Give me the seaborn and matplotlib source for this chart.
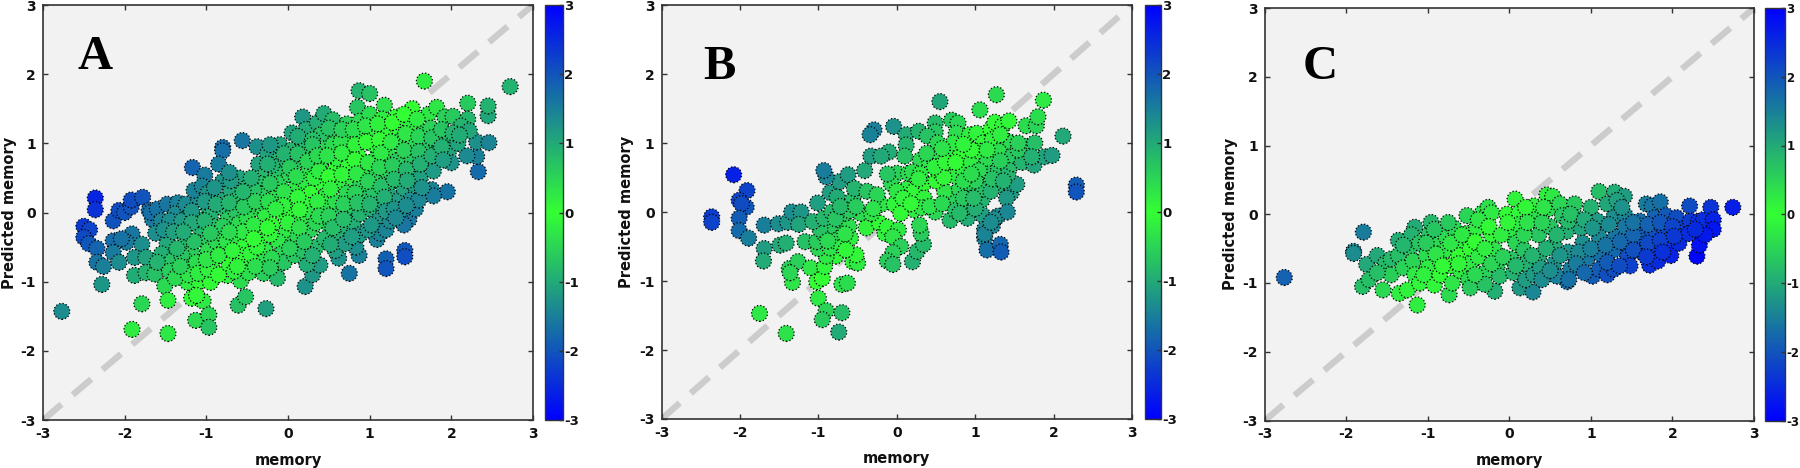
import matplotlib
matplotlib.use("Agg")
import matplotlib.pyplot as plt
from matplotlib.colors import LinearSegmentedColormap, Normalize
from matplotlib.cm import ScalarMappable
import seaborn as sns
import pandas as pd

plt.rcParams["axes.unicode_minus"] = False

axis_limits = [-3, 3]
tick_values = [-3, -2, -1, 0, 1, 2, 3]
panel_letters = ["A", "B", "C"]
x_title = "memory"
y_title = "Predicted memory"

a_points = [
(-2.77,-1.43),(-2.36,0.21),(-2.36,0.04),(-2.5,-0.2),(-2.43,-0.25),(-2.5,-0.36),(-2.44,-0.45),(-2.34,-0.52),(-2.34,-0.72),(-2.26,-0.78),(-2.28,-1.04),
(-2.14,-0.12),(-2.07,0.03),(-2.0,0.0),(-1.92,0.08),(-1.92,0.18),(-1.78,0.22),(-1.7,0.03),(-1.66,-0.1),(-1.68,0.0),
(-2.14,-0.41),(-2.14,-0.58),(-2.07,-0.72),(-1.91,-0.31),(-1.98,-0.43),(-2.04,-0.38),(-1.79,-0.46),(-1.88,-0.65),(-1.74,-0.65),(-1.88,-0.91),(-1.74,-0.87),(-1.63,-0.89),(-1.51,-1.06),(-1.23,-1.01),(-1.09,-1.0),(-0.95,-1.01),(-0.74,-0.91),(-0.58,-0.99),
(-1.91,-1.69),(-1.79,-1.32),(-1.47,-1.75),(-1.47,-1.27),(-1.18,-1.24),(-1.04,-1.28),(-1.13,-1.56),(-0.97,-1.48),(-0.97,-1.66),(-0.61,-1.34),(-0.52,-1.22),(-0.27,-1.39),(-1.12,-1.2),
(0.21,-1.07),(0.3,-0.9),(0.39,-0.76),(0.23,-0.75),(0.62,-0.66),(0.75,-0.88),(0.87,-0.62),(0.83,-0.5),(1.2,-0.67),(1.2,-0.81),(1.43,-0.55),(1.43,-0.64),(1.09,-0.39),(1.13,-0.3),
(1.95,0.3),(1.76,0.33),(1.78,0.24),(1.48,-0.1),(2.33,0.59),(2.31,0.81),(2.19,0.82),(2.31,1.02),(2.46,1.01),(2.45,1.4),(2.45,1.54),(2.2,1.58),(2.72,1.82),(1.67,1.9),(0.87,1.76),(1.0,1.72),
(-0.56,1.04),(-0.8,0.94),(-0.8,0.89),(-0.38,0.95),(-0.85,0.7),(-1.17,0.65),(-1.02,0.54),
(-1.6,0.05),(-1.55,-0.12),(-1.62,-0.3),(-1.48,-0.45),(-1.55,-0.6),(-1.42,-0.7),(-1.6,-0.72),(-1.45,-0.85),(-1.38,-0.95),
(-1.48,0.12),(-1.35,0.14),(-1.38,-0.02),(-1.45,-0.12),(-1.22,-0.05),(-1.25,0.12),(-1.1,0.22),(-1.15,0.32),(-1.05,0.38),(-0.98,0.28),
(-1.25,-0.42),(-1.18,-0.58),(-1.3,-0.62),(-1.25,-0.8),(-1.12,-0.72),(-1.22,-0.9),(-1.1,-0.88),(-1.02,-0.4),(-1.08,-0.22),(-1.1,-0.1),
(-0.98,0.08),(-0.95,-0.05),(-0.92,-0.2),(-0.98,-0.55),(-0.92,-0.7),(-0.98,-0.82),(-0.85,-0.9),(-0.88,-0.42),(-0.82,-0.3),
(-0.8,0.45),(-0.85,0.2),(-0.78,0.05),(-0.74,-0.1),(-0.78,-0.55),(-0.72,-0.75),(-0.75,-0.42),(-0.7,0.32),(-0.6,0.5),(-0.62,0.18),(-0.64,0.02),
(-0.6,-0.16),(-0.62,-0.33),(-0.55,-0.5),(-0.52,-0.72),(-0.48,-0.87),(-0.58,-0.62),(-0.5,0.36),(-0.48,0.22),(-0.45,0.04),(-0.5,-0.08),(-0.44,-0.28),
(-0.36,0.7),(-0.28,0.55),(-0.35,0.42),(-0.3,0.27),(-0.33,0.1),(-0.28,-0.06),(-0.34,-0.4),(-0.28,-0.55),(-0.34,-0.72),(-0.3,-0.88),(-0.15,-0.85),(-0.25,0.85),(-0.1,0.98),
(-0.12,0.75),(-0.15,0.58),(-0.1,0.42),(-0.18,0.2),(-0.05,-0.02),(-0.02,-0.28),(-0.12,-0.42),(-0.08,-0.6),(-0.05,-0.72),(-0.13,-0.95),
(0.04,0.9),(0.08,0.72),(0.02,0.55),(0.1,0.38),(0.04,0.18),(0.0,0.05),(0.15,-0.12),(0.06,-0.45),(0.12,-0.35),(0.08,-0.62),(0.18,-0.55),
(0.05,1.15),(0.18,1.02),(0.18,1.38),(0.22,1.2),(0.24,0.85),(0.26,0.62),(0.2,0.46),(0.28,0.28),(0.2,0.12),(0.3,-0.02),(0.28,-0.25),(0.34,-0.5),(0.3,-0.62),
(0.36,1.3),(0.44,1.43),(0.4,1.12),(0.42,0.92),(0.4,0.72),(0.42,0.42),(0.46,0.24),(0.44,0.06),(0.48,-0.15),(0.45,-0.38),(0.58,-0.55),(0.55,1.34),
(0.58,1.15),(0.55,0.98),(0.58,0.62),(0.6,0.78),(0.62,0.42),(0.58,0.16),(0.62,-0.05),(0.62,-0.3),(0.7,-0.45),(0.72,-0.2),
(0.72,1.28),(0.72,1.08),(0.76,0.9),(0.74,0.68),(0.78,0.5),(0.72,0.28),(0.78,0.08),(0.8,-0.15),(0.88,-0.32),(0.88,-0.02),
(0.85,1.52),(0.88,1.32),(0.9,1.12),(0.86,0.82),(0.92,0.62),(0.88,0.38),(0.95,0.2),(0.98,-0.25),(1.02,0.05),
(1.0,1.42),(1.02,1.18),(1.05,0.98),(1.08,0.78),(1.06,0.5),(1.05,0.3),(1.1,-0.12),(1.15,0.1),(1.2,-0.25),(1.25,-0.12),
(1.18,1.55),(1.15,1.35),(1.2,1.12),(1.22,0.85),(1.18,0.62),(1.24,0.42),(1.28,0.22),(1.38,0.02),(1.42,-0.18),(1.36,0.18),
(1.32,1.38),(1.35,1.22),(1.36,1.02),(1.34,0.75),(1.38,0.55),(1.42,0.35),(1.5,0.18),(1.56,0.05),(1.6,0.18),
(1.52,1.5),(1.5,1.25),(1.5,1.05),(1.5,0.82),(1.55,0.62),(1.55,0.4),(1.62,0.5),
(1.72,1.42),(1.82,1.52),(1.66,1.15),(1.68,0.95),(1.7,0.72),(1.78,0.6),(1.82,1.0),(1.82,0.85),
(1.92,1.38),(2.02,1.39),(1.95,1.12),(1.98,0.92),(2.0,0.72),(2.08,1.0),(2.2,1.35),(2.12,1.25),(2.22,1.18),
]
a_extra = [
(-1.52,-0.25),(-1.36,-0.52),(-1.3,-0.12),(-1.18,0.02),(-1.32,-0.78),(-1.18,-0.15),(-1.15,-0.42),(-1.02,-0.12),(-1.02,0.16),(-1.0,-0.68),(-0.9,0.36),(-0.88,0.12),(-0.85,-0.62),(-0.8,-0.2),(-0.72,0.14),(-0.68,-0.55),(-0.66,-0.85),(-0.7,0.46),
(-0.54,0.08),(-0.55,-0.28),(-0.46,-0.6),(-0.42,-0.18),(-0.42,0.32),(-0.4,0.16),(-0.4,-0.78),(-0.38,-0.5),(-0.22,0.42),(-0.24,0.16),(-0.2,-0.18),(-0.22,-0.32),(-0.2,-0.66),(-0.22,-0.8),(-0.2,0.68),(-0.22,0.98),(-0.05,0.85),(-0.05,0.3),(-0.06,0.1),
(0.02,0.65),(0.0,-0.15),(0.02,-0.52),(0.12,0.22),(0.14,0.04),(0.1,0.52),(0.12,0.85),(0.12,1.1),(0.14,-0.22),(0.2,-0.42),(0.24,0.74),(0.3,1.05),(0.3,0.98),(0.32,0.5),(0.36,0.16),(0.34,-0.15),(0.38,0.6),(0.38,-0.05),(0.36,0.82),
(0.5,1.22),(0.48,0.82),(0.5,0.52),(0.52,0.34),(0.5,-0.05),(0.55,-0.22),(0.52,-0.46),(0.65,1.02),(0.66,0.86),(0.66,0.55),(0.68,0.12),(0.68,-0.1),(0.66,1.2),(0.8,1.2),(0.82,0.98),(0.82,0.76),(0.84,0.56),(0.82,0.28),(0.85,0.14),(0.78,-0.35),
(0.95,1.25),(0.96,1.02),(0.98,0.72),(0.98,0.45),(1.0,0.12),(1.02,-0.18),(1.1,1.28),(1.12,1.05),(1.14,0.86),(1.12,0.65),(1.14,0.38),(1.18,0.22),(1.2,0.02),(1.28,1.3),(1.26,1.02),(1.28,0.68),(1.3,0.48),(1.3,0.05),(1.32,-0.08),
(1.42,1.42),(1.44,1.14),(1.42,0.9),(1.45,0.62),(1.46,0.46),(1.45,0.1),(1.58,1.35),(1.6,1.1),(1.6,0.88),(1.62,0.7),(1.64,0.36),(1.75,1.22),(1.76,0.82),(1.76,1.08),(1.88,1.2),(1.88,0.95),(1.9,0.76),(2.02,1.15),(2.1,1.12),
(-0.72,0.58),(-0.55,0.3),(-0.25,0.7),(-0.45,0.5),(-0.95,-0.3),(-0.72,-0.28),(-1.4,-0.28),(-1.28,-0.28),(-0.25,-0.22),(-0.15,0.05),(-0.62,-0.78),(-0.42,-0.38),
]

b_points = [
(-2.36,-0.07),(-2.36,-0.15),(-2.08,0.54),(-1.91,0.31),(-2.01,0.17),(-1.92,0.07),(-1.98,0.12),(-2.01,-0.09),(-2.01,-0.27),(-1.89,-0.38),(-1.69,-0.19),(-1.69,-0.53),(-1.7,-0.71),(-1.75,-1.47),(-1.41,-1.76),
(-1.51,-0.17),(-1.39,-0.15),(-1.34,0.0),(-1.22,0.0),(-1.25,-0.18),(-1.49,-0.48),(-1.41,-0.45),(-1.17,-0.43),(-1.37,-0.82),(-1.26,-0.72),(-1.33,-1.02),(-1.36,-0.88),(-1.1,-0.81),(-1.02,-1.01),(-0.95,-0.96),(-1.0,-1.25),(-0.9,-1.43),(-0.95,-1.56),(-0.7,-1.46),(-0.74,-1.74),(-0.7,-1.05),(-0.63,-1.03),
(-0.92,-0.79),(-0.56,-0.72),(-0.5,-0.74),(-0.52,-0.62),(-0.78,-0.64),(-0.9,-0.64),(-1.0,-0.53),(-1.02,-0.43),(-0.85,-0.52),(-0.73,-0.45),(-0.59,-0.38),(-0.93,-0.31),(-0.8,-0.31),(-0.71,-0.21),(-0.61,-0.21),(-0.85,-0.2),(-0.98,-0.25),(-1.07,-0.14),(-0.93,-0.09),(-0.83,0.0),(-1.01,0.13),(-0.85,0.28),(-0.76,0.22),(-0.73,0.44),(-0.62,0.54),(-0.9,0.51),(-0.93,0.6),(-0.56,0.18),(-0.54,0.34),(-0.66,-0.02),(-0.46,-0.02),(-0.38,0.3),(-0.41,0.6),(-0.39,-0.23),(-0.22,-0.16),(-0.15,-0.31),(-0.32,-0.02),(-0.2,0.11),(-0.03,0.11),(-0.25,0.25),
(-0.12,-0.22),(0.02,-0.26),(-0.05,-0.36),(0.05,-0.5),(-0.05,-0.59),(-0.12,-0.71),(-0.05,-0.76),(0.2,-0.72),(0.26,-0.57),(0.34,-0.47),(0.31,-0.31),(0.29,-0.19),(0.22,0.03),(0.05,-0.02),(0.49,0.0),(0.68,-0.12),(0.9,-0.09),(1.09,-0.04),(1.09,0.18),(0.9,0.08),(0.73,0.17),(0.61,0.3),(0.8,0.33),(0.95,0.38),(1.09,0.33),(1.28,0.38),(1.46,0.28),(1.53,0.4),(1.4,0.2),
(1.12,-0.25),(1.22,-0.2),(1.12,-0.38),(1.15,-0.55),(1.32,-0.47),(1.33,-0.58),(1.29,-0.06),(1.41,0.0),(1.24,-0.1),(1.12,-0.32),(1.2,-0.15),
(0.55,1.6),(1.27,1.7),(1.87,1.62),(1.06,1.48),(2.12,1.1),(2.29,0.39),(2.29,0.29),(-0.04,1.24),(-0.29,1.19),(-0.34,1.12),(0.12,1.12),(0.12,0.97),(0.28,1.17),(0.49,1.29),(0.7,1.33),(0.78,1.29),(0.76,1.14),(0.49,1.16),(0.39,1.1),(-0.1,0.87),(-0.33,0.81),(-0.2,0.81),(0.1,0.81),(0.0,0.56),(0.15,0.56),(-0.07,0.41),(0.12,0.33),
(0.0,0.3),(0.22,0.3),(0.35,0.42),(0.35,0.2),(0.32,0.06),(0.5,0.45),(0.52,0.6),(0.3,0.75),(0.42,0.72),(0.5,0.88),(0.52,1.0),(0.68,0.85),(0.66,0.62),(0.75,0.52),(0.85,0.6),(0.8,0.8),(0.95,0.72),(0.72,1.0),(0.93,1.12),(1.02,1.14),(1.1,1.0),(1.2,1.2),(1.25,1.3),(1.35,1.25),(1.43,1.32),(1.22,1.05),(1.42,1.02),(1.46,1.0),(1.3,0.88),(1.05,0.88),(1.15,0.72),(1.18,0.55),(1.05,0.6),(1.3,0.62),(1.42,0.55),(1.48,0.7),(1.48,0.82),(1.65,0.85),(1.65,0.95),(1.76,1.0),(1.6,0.72),(1.75,0.68),(1.65,1.25),(1.78,1.25),(1.8,1.38),(1.88,0.8),(1.98,0.82),
(0.92,0.2),(1.0,0.45),(0.85,0.45),(0.6,0.5),(0.48,0.65),(0.2,0.58),(0.3,0.55),(-0.12,0.55),(-0.3,0.05),(-0.6,0.02),
]
b_extra = [
(-0.88,-0.42),(-0.78,-0.1),(-0.72,0.08),(-0.66,-0.32),(-0.52,0.08),(-0.65,-0.55),(0.08,0.2),(0.28,0.48),(0.18,0.12),(0.42,0.08),(0.58,0.12),(0.75,0.02),(0.85,0.2),(0.8,-0.02),(1.0,0.05),(0.98,0.2),(1.2,0.3),(1.22,0.48),(1.36,0.45),(1.15,0.9),(0.95,0.9),(0.85,0.98),(0.62,0.72),(0.58,0.92),(0.38,0.85),(1.32,1.12),(1.55,0.9),(0.95,0.55),(0.75,0.72),(1.32,0.74),(1.72,0.8),(1.55,1.0),
]

c_points = [
(-2.76,-0.92),(-1.79,-0.26),(-1.91,-0.54),(-1.91,-0.57),(2.74,0.1),(-1.13,-1.32),(1.1,0.33),(1.29,0.32),(1.41,0.26),(0.07,0.22),(0.46,0.28),(0.53,0.26),(2.3,-0.61),(2.33,-0.45),(1.72,-0.74),(-0.74,-1.17),(-0.18,-1.12),(0.13,-1.07),(0.29,-1.13),(0.71,-0.98),
(-1.75,-0.73),(-1.8,-1.05),(-1.72,-0.95),(-1.62,-0.6),(-1.52,-0.72),(-1.55,-1.1),(-1.45,-0.88),(-1.35,-1.15),(-1.45,-0.65),(-1.36,-0.38),(-1.36,-0.6),(-1.3,-0.78),(-1.25,-1.1),(-1.22,-0.5),(-1.16,-0.19),(-1.2,-0.3),(-1.18,-0.68),(-1.16,-0.88),(-1.1,-1.0),(-1.1,-0.42),
(-1.02,-0.6),(-0.98,-0.28),(-0.96,-0.12),(-1.0,-0.78),(-0.92,-1.03),(-0.88,-0.45),(-0.85,-0.68),(-0.85,-0.88),(-0.78,-0.32),(-0.78,-0.52),(-0.7,-1.0),(-0.72,-0.75),(-0.68,-0.2),(-0.65,-0.42),(-0.62,-0.6),(-0.6,-0.82),(-0.52,-0.02),(-0.52,-0.28),(-0.48,-0.5),(-0.48,-0.72),(-0.5,-0.95),(-0.48,-1.07),
(-0.4,-0.2),(-0.33,0.02),(-0.26,0.1),(-0.38,-0.62),(-0.3,-0.85),(-0.3,-1.02),(-0.22,0.02),(-0.22,-0.3),(-0.18,-0.52),(-0.15,-0.75),(-0.12,-0.9),(-0.03,0.0),(0.02,-0.3),(0.02,-0.65),(0.05,-0.85),(0.08,-0.42),(0.12,0.02),(0.12,-0.15),
(0.18,-0.52),(0.2,-0.72),(0.2,-0.95),(0.3,-0.88),(0.3,0.12),(0.3,-0.08),(0.36,-0.3),(0.36,-0.62),(0.38,-0.78),(0.4,-0.95),(0.48,0.08),(0.5,-0.18),(0.55,-0.45),(0.55,-0.72),(0.58,-0.9),(0.62,0.15),(0.65,-0.02),(0.7,-0.25),(0.72,-0.55),(0.75,-0.8),(0.73,-0.95),(0.8,0.15),(0.82,-0.05),
(0.88,-0.2),(0.9,-0.42),(0.95,-0.65),(1.02,-0.9),(1.0,0.1),(1.08,-0.1),(1.1,-0.32),(1.12,-0.58),(1.1,-0.8),(1.2,-0.88),(1.2,0.15),(1.28,-0.05),(1.3,-0.32),(1.28,-0.52),(1.28,-0.8),(1.32,0.2),(1.42,-0.02),(1.42,-0.18),(1.45,-0.45),(1.45,-0.62),(1.48,-0.75),
(1.6,-0.1),(1.6,-0.32),(1.62,-0.55),(1.68,0.15),(1.75,0.12),(1.85,0.18),(1.78,-0.05),(1.75,-0.28),(1.78,-0.52),(1.82,-0.68),(1.92,-0.02),(1.9,-0.25),(1.95,-0.45),(1.98,-0.6),(2.05,-0.05),(2.1,-0.22),(2.08,-0.42),(2.21,0.12),(2.22,-0.1),(2.2,-0.28),(2.32,-0.1),(2.35,-0.25),(2.38,-0.08),(2.47,0.1),(2.5,-0.08),(2.5,-0.22),(2.4,-0.3),
]
c_extra = [
(-1.62,-0.85),(-1.3,-0.45),(-1.05,-0.88),(-1.02,-0.42),(-0.92,-0.22),(-0.9,-0.58),(-0.82,-0.75),(-0.75,-0.12),(-0.72,-0.42),(-0.62,-0.72),(-0.58,-0.3),(-0.42,-0.4),(-0.42,-0.88),(-0.38,-0.08),(-0.3,-0.5),(-0.25,-0.18),(-0.22,-0.72),(-0.1,-0.3),(-0.08,-0.62),(-0.02,-0.12),(0.08,-0.75),(0.18,-0.3),(0.2,0.1),(0.22,-0.12),(0.28,-0.6),(0.4,-0.12),(0.42,0.1),(0.45,-0.5),(0.5,-0.82),(0.58,-0.3),(0.62,-0.6),(0.72,-0.1),(0.75,0.0),(0.85,-0.55),(0.82,-0.72),(0.92,-0.08),(0.92,-0.85),(1.0,-0.5),(1.02,-0.2),(1.18,-0.45),(1.2,-0.7),(1.22,-0.15),(1.35,-0.75),(1.36,-0.4),(1.38,0.1),(1.52,-0.3),(1.52,-0.52),(1.52,-0.12),(1.7,-0.15),(1.7,-0.42),(1.68,-0.62),(1.85,-0.38),(1.85,-0.12),(1.88,-0.55),(2.0,-0.18),(2.02,-0.32),(2.28,-0.22),
]

residual_label = "residual"
mid_green = (0.2, 1.0, 0.2)
end_blue = (0.0, 0.0, 1.0)
cmap = LinearSegmentedColormap.from_list("bgb", [end_blue, mid_green, end_blue])
norm = Normalize(axis_limits[0], axis_limits[1])

W, H = 1800, 468
fig = plt.figure(figsize=(W / 100, H / 100), dpi=100, facecolor="white")


def rect(l, t, r, b):
    return [l / W, 1 - b / H, (r - l) / W, (b - t) / H]


layout = [
    dict(pts=a_points + a_extra, ax=(43, 5, 533, 420), cb=(545, 5, 563, 420), letter=(95, 57), ylab=10, xlab=460, cbsize=9.5),
    dict(pts=b_points + b_extra, ax=(661.5, 5, 1132, 419), cb=(1145, 5, 1161, 419), letter=(719, 67), ylab=627, xlab=458, cbsize=9.5),
    dict(pts=c_points + c_extra, ax=(1264.7, 8, 1754, 420.5), cb=(1765, 8, 1785, 420.5), letter=(1320, 67), ylab=1231, xlab=460, cbsize=8.5),
]
edge = "#333333"
for item, letter in zip(layout, panel_letters):
    ax = fig.add_axes(rect(*item["ax"]), facecolor="#f2f2f2")
    ax.plot(axis_limits, axis_limits, color="#cccccc", lw=4.6, dashes=(3.8, 2.3), zorder=1)
    df = pd.DataFrame(item["pts"], columns=["memory", "predicted"])
    df[residual_label] = df["predicted"] - df["memory"]
    sns.scatterplot(data=df, x="memory", y="predicted", hue=residual_label, palette=cmap,
                    hue_norm=norm, s=132, edgecolor="black", linewidth=0.9, linestyle=":",
                    legend=False, ax=ax, zorder=2)
    ax.set_xlim(axis_limits)
    ax.set_ylim(axis_limits)
    ax.set_xticks(tick_values)
    ax.set_yticks(tick_values)
    ax.tick_params(direction="in", top=True, right=True, length=3.5, width=1, color=edge, pad=5,
                   labelsize=10, labelcolor="#111111")
    for lab in ax.get_xticklabels() + ax.get_yticklabels():
        lab.set_fontweight("bold")
    ax.set_xlabel("")
    ax.set_ylabel("")
    for s in ax.spines.values():
        s.set_edgecolor(edge)
        s.set_linewidth(1.2)
    l, t, r, b = item["ax"]
    fig.text((l + r) / 2 / W, 1 - item["xlab"] / H, x_title, ha="center", va="center",
             fontweight="bold", fontsize=10.5, color="#111111")
    fig.text(item["ylab"] / W, 1 - (t + b) / 2 / H, y_title, rotation=90, ha="center", va="center",
             fontweight="bold", fontsize=10.5, color="#111111")
    fig.text(item["letter"][0] / W, 1 - item["letter"][1] / H, letter, ha="center", va="center",
             family="Liberation Serif", fontweight="bold", fontsize=35, color="black")
    cax = fig.add_axes(rect(*item["cb"]))
    cb = fig.colorbar(ScalarMappable(norm=norm, cmap=cmap), cax=cax, ticks=tick_values)
    cb.outline.set_edgecolor(edge)
    cb.outline.set_linewidth(1.0)
    cax.tick_params(direction="in", length=3, width=1, color=edge, pad=1, labelsize=item["cbsize"], labelcolor="#111111")
    for lab in cax.get_yticklabels():
        lab.set_fontweight("bold")

fig.savefig("out.png", dpi=100)
